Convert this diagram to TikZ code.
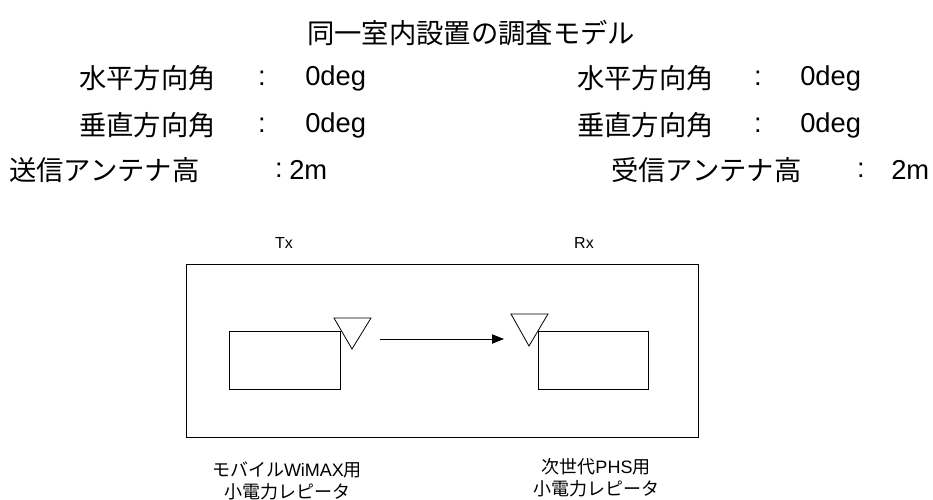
\documentclass[tikz,border=0pt]{standalone}
\usepackage{fontspec}
\setmainfont{Liberation Sans}
\newfontfamily\jp{Noto Sans CJK JP}
\usetikzlibrary{arrows.meta}
\begin{document}
\begin{tikzpicture}[x=0.75pt,y=-0.75pt,
  big/.style={font=\fontsize{20.5}{24}\selectfont, inner sep=0pt},
  small/.style={font=\fontsize{13.5}{16.5}\selectfont, inner sep=0pt, align=center},
  lbl/.style={font=\fontsize{12}{14}\selectfont, inner sep=0pt},
  box/.style={draw=black, line width=0.6pt},
  ant/.style={draw=black, line width=0.6pt, fill=white}]
\useasboundingbox (0,0) rectangle (933,500);
% texts
\node[big] (title) at (471,33) {\jp 同一室内設置の調査モデル};
\node[big, anchor=west] (h1) at (79,78) {\jp 水平方向角};
\node[big] (h1c) at (262,78) {:};
\node[big, anchor=west] (h1v) at (305,78) {0deg};
\node[big, anchor=west] (h2) at (577,78) {\jp 水平方向角};
\node[big] (h2c) at (758,78) {:};
\node[big, anchor=west] (h2v) at (800,78) {0deg};
\node[big, anchor=west] (v1) at (79,125) {\jp 垂直方向角};
\node[big] (v1c) at (262,125) {:};
\node[big, anchor=west] (v1v) at (305,125) {0deg};
\node[big, anchor=west] (v2) at (577,125) {\jp 垂直方向角};
\node[big] (v2c) at (758,125) {:};
\node[big, anchor=west] (v2v) at (800,125) {0deg};
\node[big, anchor=west] (t1) at (9,170) {\jp 送信アンテナ高};
\node[big] (t1c) at (279,170) {:};
\node[big, anchor=west] (t1v) at (289,170) {2m};
\node[big, anchor=west] (t2) at (611,170) {\jp 受信アンテナ高};
\node[big] (t2c) at (861,170) {:};
\node[big, anchor=west] (t2v) at (891,170) {2m};
\node[lbl] (tx) at (284,243) {Tx};
\node[lbl] (rx) at (584,243) {Rx};
% room
\node[box, minimum width=512*0.75pt, minimum height=173*0.75pt, inner sep=0pt] (room) at (442,350.5) {};
\node[box, minimum width=111*0.75pt, minimum height=58*0.75pt, inner sep=0pt] (txbox) at (284.5,360) {};
\node[box, minimum width=110*0.75pt, minimum height=58*0.75pt, inner sep=0pt] (rxbox) at (593,360) {};
\draw[ant] (334,318) -- (371,318) -- (352,349) -- cycle;
\draw[ant] (511,314) -- (548,314) -- (529,346) -- cycle;
\coordinate (a1) at (380,339);
\coordinate (a2) at (504,339);
\draw[line width=0.6pt, -{Triangle[length=9pt,width=7pt]}] (a1) -- (a2);
\node[small] (lab1) at (287,481) {{\jp モバイル}WiMAX{\jp 用}\\{\jp 小電力レピータ}};
\node[small] (lab2) at (596,478) {{\jp 次世代}PHS{\jp 用}\\{\jp 小電力レピータ}};
\end{tikzpicture}
\end{document}
